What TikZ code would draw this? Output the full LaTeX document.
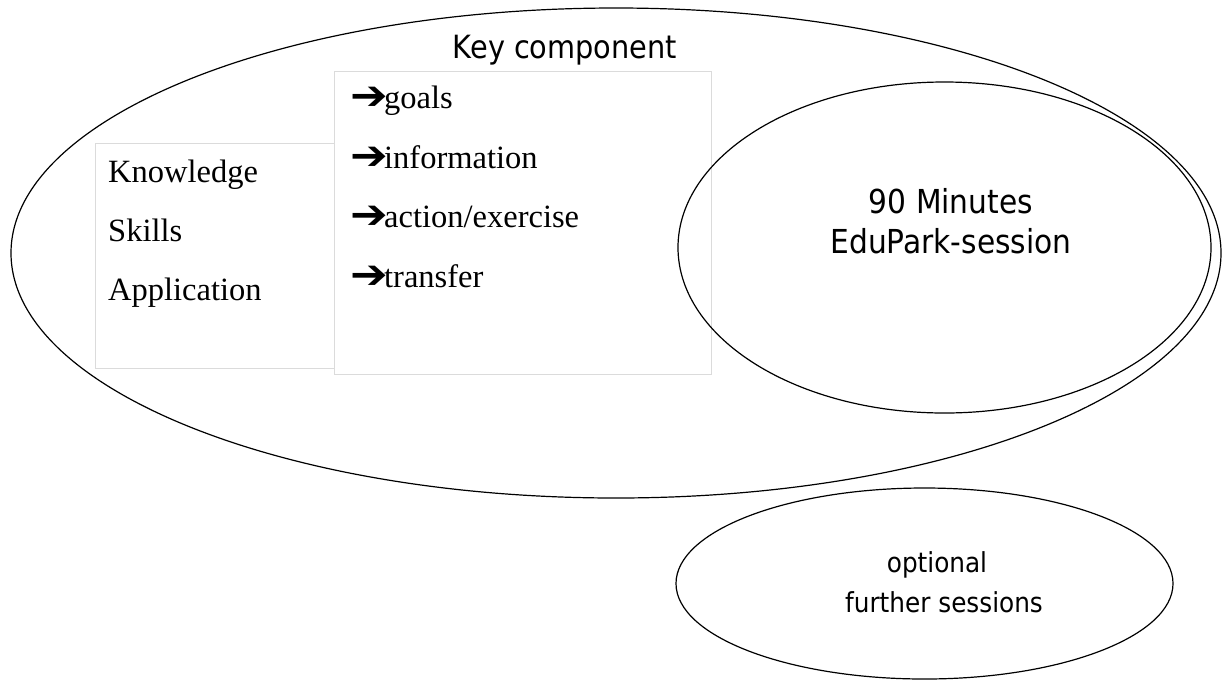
\documentclass[tikz,border=0pt]{standalone}
\usepackage{fontspec}
\setmainfont{Liberation Serif}
\newfontfamily\tahomalike{DejaVu Sans Condensed}
\newfontfamily\dingfont{DejaVu Sans}
\usetikzlibrary{shapes.geometric}
\tikzset{
  oval/.style={draw=black, line width=1.2pt, ellipse, inner sep=0pt},
  panel/.style={draw=black!14, line width=1pt, fill=white, inner sep=0pt},
  keylabelstyle/.style={font=\tahomalike\fontsize{32}{38}\selectfont, anchor=base, inner sep=0pt},
  sanslabel/.style={font=\tahomalike\fontsize{33}{38}\selectfont, anchor=base, inner sep=0pt},
  smallsans/.style={font=\tahomalike\fontsize{27.5}{33}\selectfont, anchor=base, inner sep=0pt},
  seriflabel/.style={font=\fontsize{32.5}{38}\selectfont, anchor=base west, inner sep=0pt},
}
\newcommand\bulletarrow{\makebox[34pt][l]{\raisebox{-1pt}{\scalebox{1.5}[1.35]{\dingfont\bfseries\fontsize{30}{30}\selectfont ➔}}}}
\begin{document}
\begin{tikzpicture}[x=1pt,y=-1pt]
\useasboundingbox (0,0) rectangle (1222,681);
% outer key component oval
\node[oval, minimum width=1210pt, minimum height=490pt] (keyoval) at (616,253) {};
% text panels
\node[panel, minimum width=239pt, minimum height=225pt] (kbox) at (214.5,255.5) {};
\node[panel, minimum width=377pt, minimum height=303pt] (abox) at (522.5,222.5) {};
% session ovals
\node[oval, minimum width=533pt, minimum height=331pt] (session) at (944.5,247.5) {};
\node[oval, minimum width=497pt, minimum height=191pt] (further) at (924.5,583.5) {};
% labels
\node[keylabelstyle] (keylabel) at (565,58) {Key component};
\node[seriflabel] (k1) at (108,182) {Knowledge};
\node[seriflabel] (k2) at (108,241) {Skills};
\node[seriflabel] (k3) at (108,300) {Application};
\node[seriflabel] (a1) at (350,108) {\bulletarrow goals};
\node[seriflabel] (a2) at (350,168) {\bulletarrow information};
\node[seriflabel] (a3) at (350,227) {\bulletarrow action/exercise};
\node[seriflabel] (a4) at (350,287) {\bulletarrow transfer};
\node[sanslabel] (s1) at (951,213) {90 Minutes};
\node[sanslabel] (s2) at (951,253) {EduPark-session};
\node[smallsans] (f1) at (937,572) {optional};
\node[smallsans] (f2) at (944,612) {further sessions};
\end{tikzpicture}
\end{document}
